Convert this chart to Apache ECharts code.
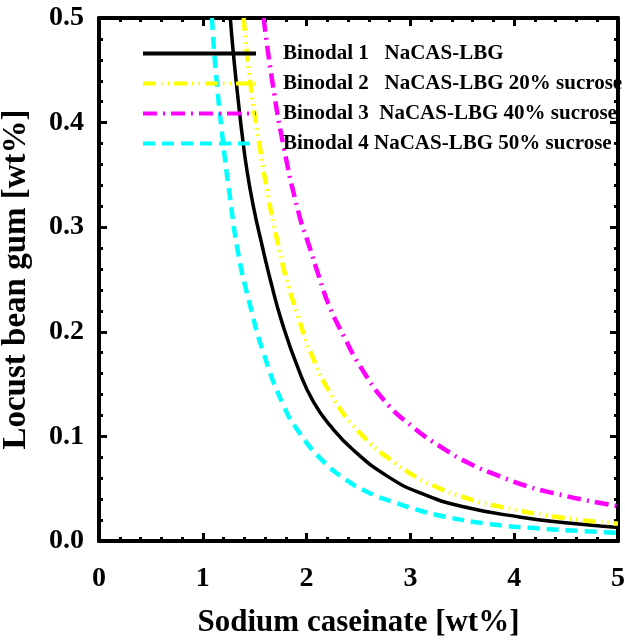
<!DOCTYPE html>
<html>
<head>
<meta charset="utf-8">
<script src="https://cdn.jsdelivr.net/npm/echarts@6/dist/echarts.min.js"></script>
<style>
html,body{margin:0;padding:0;background:#fff;}
#c{width:625px;height:641px;}
</style>
</head>
<body>
<div id="c"></div>
<script>
const seriesNames = [
  'Binodal 1   NaCAS-LBG',
  'Binodal 2   NaCAS-LBG 20% sucrose',
  'Binodal 3  NaCAS-LBG 40% sucrose',
  'Binodal 4 NaCAS-LBG 50% sucrose'
];
const binodal1 = [[1.265,0.5],[1.293,0.4675],[1.335,0.427],[1.377,0.390],[1.426,0.354],[1.489,0.319],[1.57,0.283],[1.651,0.2495],[1.763,0.209],[1.924,0.1635],[2.069,0.1325],[2.23,0.110],[2.455,0.0865],[2.777,0.062],[3.098,0.0458],[3.5,0.033],[4.064,0.0228],[4.546,0.0169],[5.0,0.013]];
const binodal2 = [[1.393,0.5],[1.458,0.4376],[1.554,0.3738],[1.634,0.327],[1.709,0.2909],[1.795,0.2543],[1.908,0.2177],[2.037,0.181],[2.23,0.1412],[2.503,0.1045],[2.857,0.0743],[3.211,0.0535],[3.549,0.0408],[3.935,0.0313],[4.289,0.0249],[4.643,0.0201],[5.0,0.0165]];
const binodal3 = [[1.586,0.5],[1.667,0.441],[1.779,0.377],[1.924,0.3133],[2.02,0.2835],[2.117,0.2535],[2.213,0.226],[2.365,0.1945],[2.519,0.1666],[2.744,0.1348],[3.01,0.11],[3.3,0.0895],[3.565,0.0743],[3.871,0.0615],[4.16,0.0513],[4.418,0.0449],[4.675,0.0392],[5.0,0.0333]];
const binodal4 = [[1.088,0.5],[1.12,0.455],[1.184,0.391],[1.264,0.327],[1.345,0.273],[1.451,0.2272],[1.586,0.1794],[1.779,0.1292],[1.924,0.1045],[2.133,0.079],[2.358,0.06],[2.6,0.0462],[2.825,0.0376],[3.05,0.0303],[3.29,0.0242],[3.742,0.0165],[4.225,0.0121],[4.643,0.0096],[5.0,0.0078]];
const xTicks = [0,1,2,3,4,5];
const yTicks = [0.0,0.1,0.2,0.3,0.4,0.5];
const xTitle = 'Sodium caseinate [wt%]';
const yTitle = 'Locust bean gum [wt%]';

const FONT = "'Liberation Serif','Times New Roman',serif";
const chart = echarts.init(document.getElementById('c'), null, {renderer:'canvas'});

function axisCommon(show){
  return {
    axisLine:{show:true,onZero:false,lineStyle:{color:'#000',width:4}},
    axisTick:{show:true,inside:true,length:8,lineStyle:{color:'#000',width:3}},
    minorTick:{show:true,splitNumber:5,length:4,lineStyle:{color:'#000',width:3}},
    splitLine:{show:false},
    axisLabel:{show:show}
  };
}

const colors = ['#000000','#FFFF00','#FF00FF','#00FFFF'];
const dashes = ['solid',[13,5,1.5,5,1.5,5],[14,6,2,6],[12,7]];
const datas = [binodal1,binodal2,binodal3,binodal4];

const option = {
  animation:false,
  backgroundColor:'#fff',
  grid:{left:99,right:7,top:18,bottom:100,containLabel:false,outerBoundsMode:'none'},
  legend:{
    orient:'vertical',left:141,top:43,padding:0,
    itemWidth:113,itemHeight:14,itemGap:9,
    data:seriesNames,
    itemStyle:{opacity:0},
    lineStyle:{width:4},
    textStyle:{fontFamily:FONT,fontWeight:'bold',fontSize:21,color:'#000',lineHeight:20,padding:[0,0,0,22]}
  },
  xAxis:[
    Object.assign(axisCommon(true),{
      type:'value',min:0,max:5,interval:1,position:'bottom',
      name:xTitle,nameLocation:'middle',nameGap:66,
      nameTextStyle:{fontFamily:FONT,fontWeight:'bold',fontSize:31,color:'#000'},
      axisLabel:{show:true,margin:24,fontFamily:FONT,fontWeight:'bold',fontSize:28,color:'#000',
        formatter:v=>xTicks.includes(v)?String(v):''}
    }),
    Object.assign(axisCommon(false),{type:'value',min:0,max:5,interval:1,position:'top'})
  ],
  yAxis:[
    Object.assign(axisCommon(true),{
      type:'value',min:0,max:0.5,interval:0.1,position:'left',
      name:yTitle,nameLocation:'middle',nameGap:66,
      nameTextStyle:{fontFamily:FONT,fontWeight:'bold',fontSize:33,color:'#000'},
      axisLabel:{show:true,margin:15,fontFamily:FONT,fontWeight:'bold',fontSize:28,color:'#000',
        formatter:v=>{const t=yTicks.find(y=>Math.abs(y-v)<1e-9);return t===undefined?'':t.toFixed(1);}}
    }),
    Object.assign(axisCommon(false),{type:'value',min:0,max:0.5,interval:0.1,position:'right'})
  ],
  series:datas.map((d,i)=>({
    name:seriesNames[i],type:'line',data:d,smooth:0.5,symbol:'none',clip:true,
    lineStyle:{color:colors[i],width:i===0?3.5:4.5,type:dashes[i]},
    itemStyle:{color:colors[i]},
    z:2
  }))
};
chart.setOption(option);
</script>
</body>
</html>
